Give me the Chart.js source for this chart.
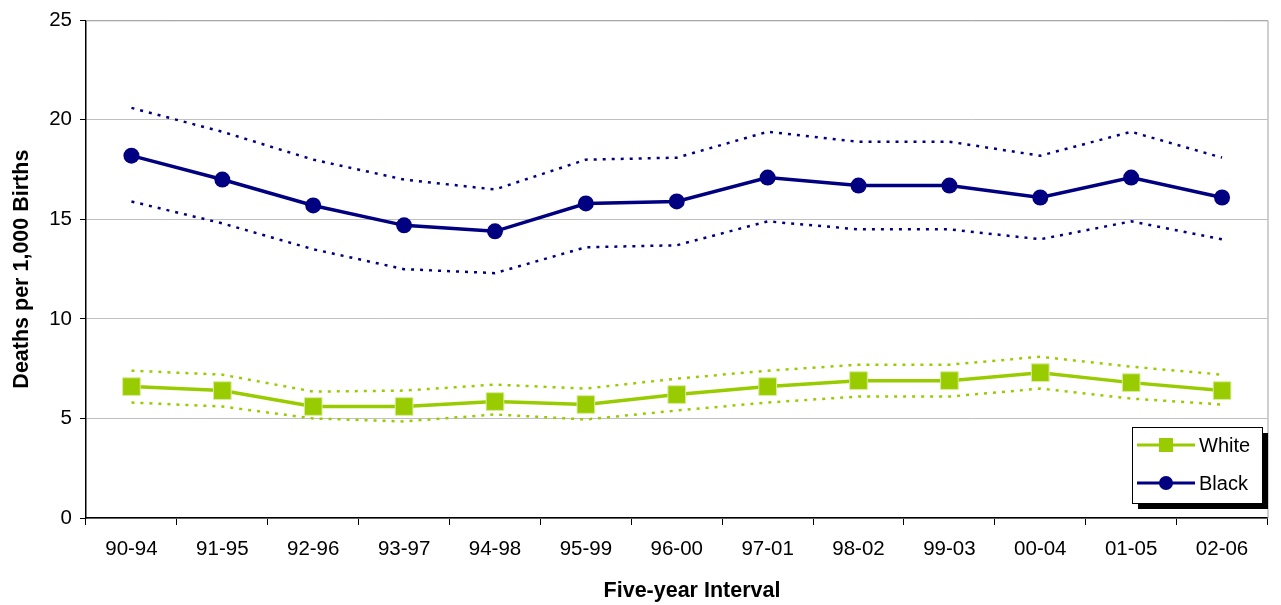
<!DOCTYPE html>
<html>
<head>
<meta charset="utf-8">
<script src="https://cdn.jsdelivr.net/npm/chart.js@4/dist/chart.umd.min.js"></script>
<style>
  html, body { margin: 0; padding: 0; background: #fff; }
  #wrap { width: 1281px; height: 605px; position: relative; }
</style>
</head>
<body>
<div id="wrap"><canvas id="rateChart" width="1281" height="605"></canvas></div>
<script>
// Data
const intervals = ["90-94", "91-95", "92-96", "93-97", "94-98", "95-99", "96-00",
                   "97-01", "98-02", "99-03", "00-04", "01-05", "02-06"];

const whiteRate  = [6.6, 6.4, 5.6, 5.6, 5.85, 5.7, 6.2, 6.6, 6.9, 6.9, 7.3, 6.8, 6.4];
const whiteUpper = [7.4, 7.2, 6.35, 6.4, 6.7, 6.5, 7.0, 7.4, 7.7, 7.7, 8.1, 7.6, 7.2];
const whiteLower = [5.8, 5.6, 5.0, 4.85, 5.2, 4.95, 5.4, 5.8, 6.1, 6.1, 6.5, 6.0, 5.7];

const blackRate  = [18.2, 17.0, 15.7, 14.7, 14.4, 15.8, 15.9, 17.1, 16.7, 16.7, 16.1, 17.1, 16.1];
const blackUpper = [20.6, 19.4, 18.0, 17.0, 16.5, 18.0, 18.1, 19.4, 18.9, 18.9, 18.2, 19.4, 18.1];
const blackLower = [15.9, 14.8, 13.5, 12.5, 12.3, 13.6, 13.7, 14.9, 14.5, 14.5, 14.0, 14.9, 14.0];

const yTicks = [0, 5, 10, 15, 20, 25];

const GREEN = "#99cc00";
const NAVY = "#000080";
const FONT = "'Liberation Sans', Arial, sans-serif";

Chart.defaults.font.family = FONT;
Chart.defaults.color = "#000";

function bound(data, color) {
  return {
    data: data,
    borderColor: color,
    borderWidth: 2.5,
    borderDash: [3, 6],
    pointRadius: 0,
    fill: false,
    tension: 0,
  };
}

// gray frame on top and right of the plot area
const framePlugin = {
  id: "frame",
  beforeDatasetsDraw(chart) {
    const { ctx, chartArea: a } = chart;
    ctx.save();
    ctx.strokeStyle = "#a0a0a0";
    ctx.lineWidth = 1;
    ctx.beginPath();
    ctx.moveTo(a.left, a.top + 0.5);
    ctx.lineTo(a.right + 0.5, a.top + 0.5);
    ctx.lineTo(a.right + 0.5, a.bottom);
    ctx.stroke();
    ctx.restore();
  },
};

// x axis title, a bit right of the plot centre as in the original
const xTitlePlugin = {
  id: "xTitle",
  afterDraw(chart) {
    const { ctx } = chart;
    ctx.save();
    ctx.fillStyle = "#000";
    ctx.font = "bold 21.5px " + FONT;
    ctx.textAlign = "center";
    ctx.textBaseline = "middle";
    ctx.fillText("Five-year Interval", 692, 591);
    ctx.restore();
  },
};

// legend box with drop shadow, bottom right inside the plot
const legendPlugin = {
  id: "boxLegend",
  afterDraw(chart) {
    const { ctx } = chart;
    const x = 1132, y = 427, w = 130, h = 76;
    ctx.save();
    ctx.fillStyle = "#000";
    ctx.fillRect(x + 6, y + 6, w, h);
    ctx.fillStyle = "#fff";
    ctx.fillRect(x, y, w, h);
    ctx.strokeStyle = "#000";
    ctx.lineWidth = 1;
    ctx.strokeRect(x + 0.5, y + 0.5, w, h);

    const items = [
      { label: "White", color: GREEN, style: "rect" },
      { label: "Black", color: NAVY, style: "circle" },
    ];
    items.forEach((it, i) => {
      const cy = y + 18 + i * 38;
      ctx.strokeStyle = it.color;
      ctx.lineWidth = 3;
      ctx.beginPath();
      ctx.moveTo(x + 5, cy);
      ctx.lineTo(x + 63, cy);
      ctx.stroke();
      ctx.fillStyle = it.color;
      if (it.style === "rect") {
        ctx.fillRect(x + 27, cy - 7, 14, 14);
      } else {
        ctx.beginPath();
        ctx.arc(x + 34, cy, 7, 0, Math.PI * 2);
        ctx.fill();
      }
      ctx.fillStyle = "#000";
      ctx.font = "20px " + FONT;
      ctx.textBaseline = "middle";
      ctx.fillText(it.label, x + 67, cy + 1);
    });
    ctx.restore();
  },
};

new Chart(document.getElementById("rateChart"), {
  type: "line",
  data: {
    labels: intervals,
    datasets: [
      {
        label: "White",
        data: whiteRate,
        borderColor: GREEN,
        backgroundColor: GREEN,
        borderWidth: 3.5,
        pointStyle: "rect",
        pointRadius: 12.5,
        pointBorderColor: "#d8ee99",
        pointBorderWidth: 1,
        tension: 0,
      },
      bound(whiteUpper, GREEN),
      bound(whiteLower, GREEN),
      {
        label: "Black",
        data: blackRate,
        borderColor: NAVY,
        backgroundColor: NAVY,
        borderWidth: 3.5,
        pointStyle: "circle",
        pointRadius: 8,
        pointBorderWidth: 0,
        tension: 0,
      },
      bound(blackUpper, NAVY),
      bound(blackLower, NAVY),
    ],
  },
  options: {
    responsive: false,
    animation: false,
    layout: { padding: { left: 0, right: 11, top: 19, bottom: 0 } },
    plugins: {
      legend: { display: false },
      tooltip: { enabled: false },
    },
    scales: {
      x: {
        offset: true,
        grid: {
          offset: true,
          drawOnChartArea: false,
          tickLength: 7,
          tickColor: "#000",
        },
        border: { color: "#000", width: 1.5 },
        ticks: { font: { size: 20.5 }, padding: 12, maxRotation: 0 },
        afterFit(s) { s.height = 87; },
      },
      y: {
        min: 0,
        max: 25,
        afterBuildTicks(s) { s.ticks = yTicks.map(v => ({ value: v })); },
        grid: {
          color: "#c0c0c0",
          lineWidth: 1,
          tickLength: 6,
          tickColor: "#000",
        },
        border: { color: "#000", width: 1.5 },
        ticks: { font: { size: 20.5 }, padding: 8 },
        title: {
          display: true,
          text: "Deaths per 1,000 Births",
          font: { size: 21.5, weight: "bold" },
          padding: { top: 9, bottom: 0 },
        },
        afterFit(s) { s.width = 86; },
      },
    },
  },
  plugins: [framePlugin, legendPlugin, xTitlePlugin],
});
</script>
</body>
</html>
